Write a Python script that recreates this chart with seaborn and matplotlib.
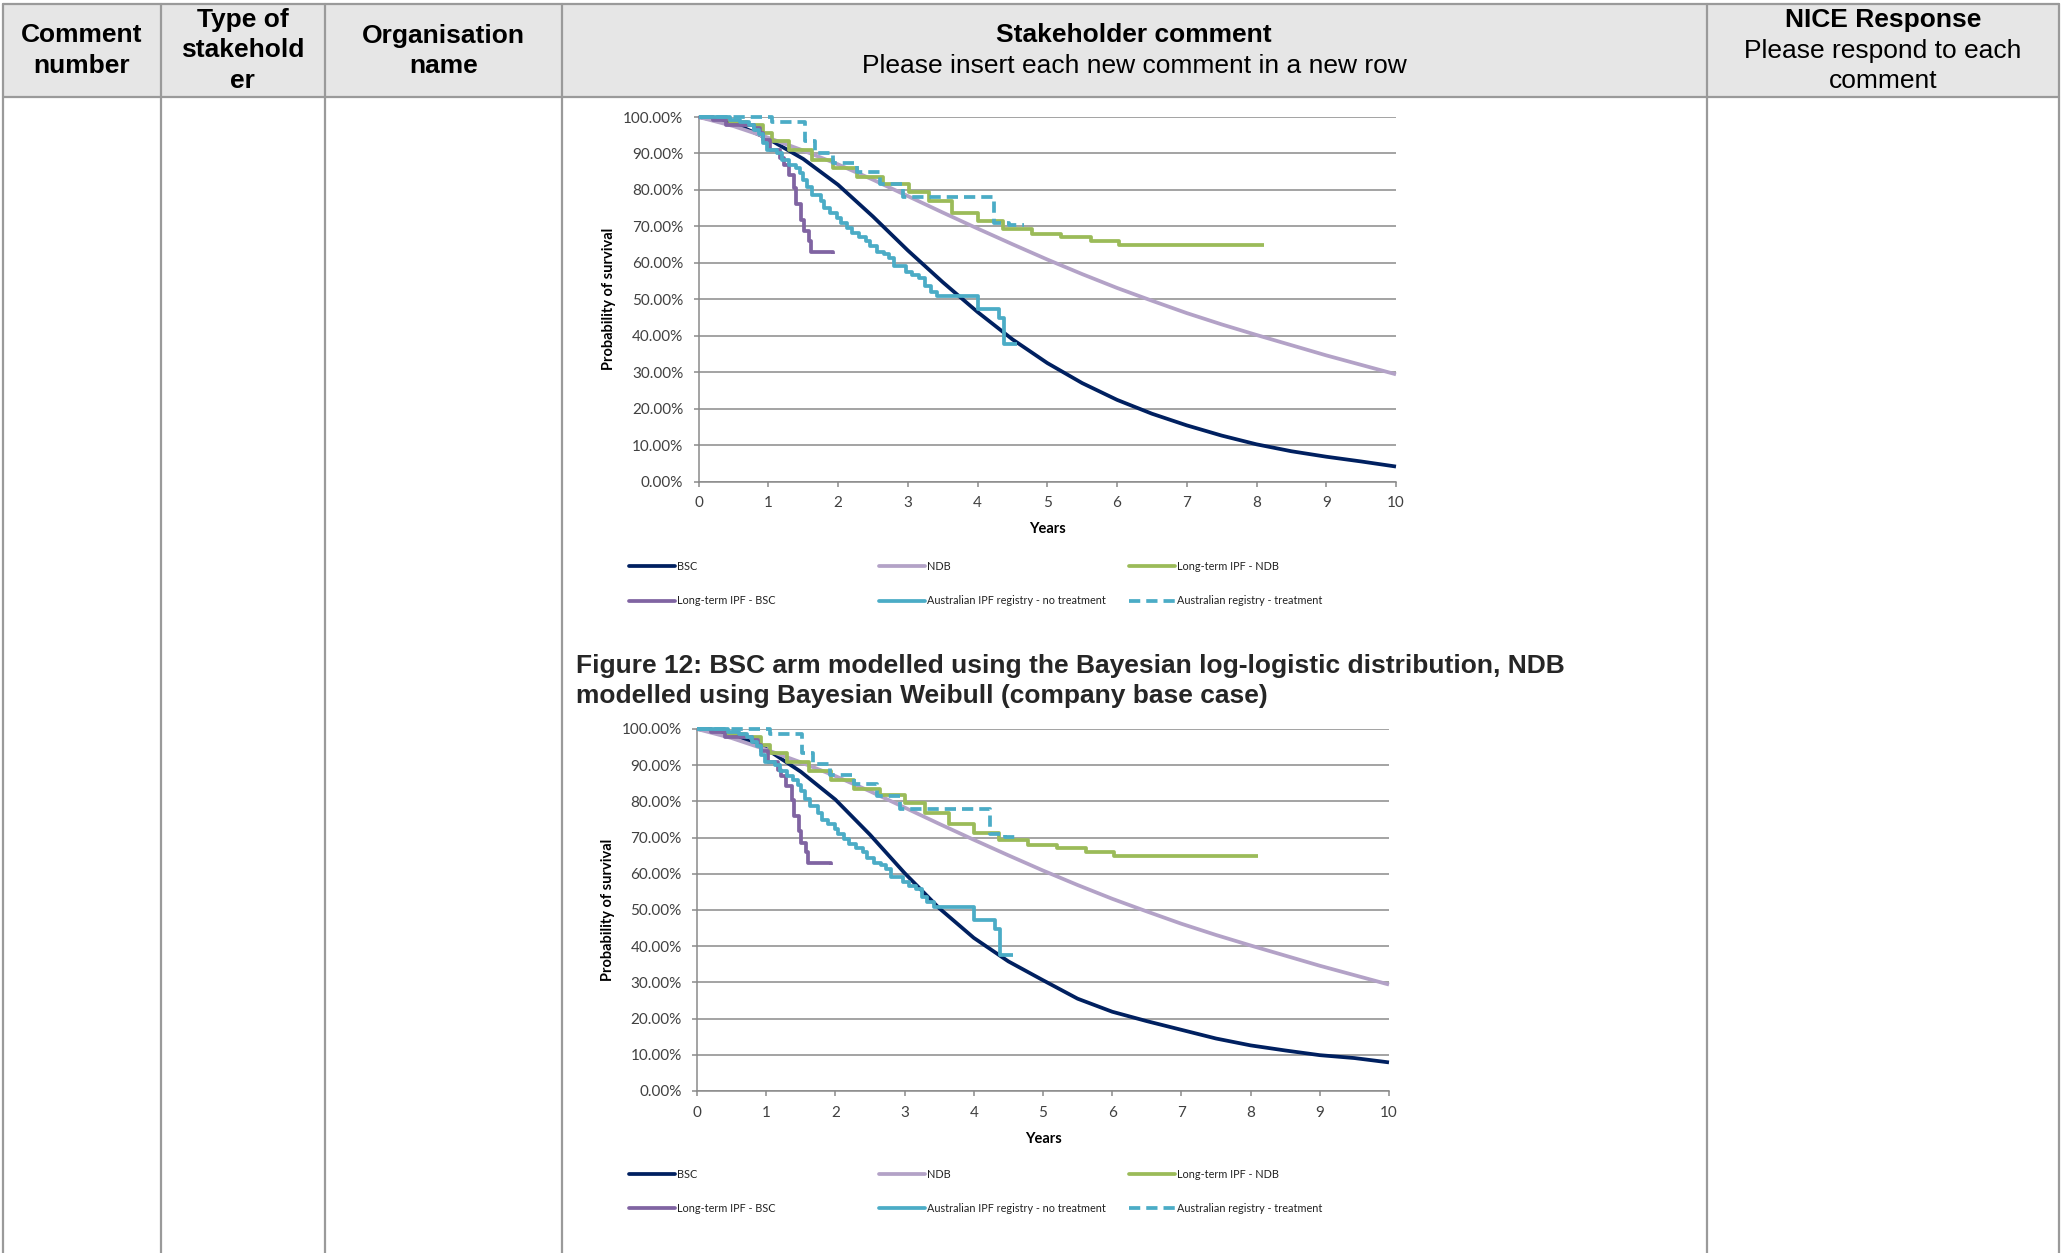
import matplotlib
matplotlib.use("Agg")
import matplotlib.pyplot as plt
import seaborn as sns
import pandas as pd
from matplotlib.ticker import PercentFormatter, MultipleLocator

W, H = 2063, 1253

# ---- data: years and survival (%) ----
years = [0, 0.5, 1, 1.5, 2, 2.5, 3, 3.5, 4, 4.5, 5, 5.5, 6, 6.5, 7, 7.5, 8, 8.5, 9, 9.5, 10]
bsc_fig11 = [100, 98.3, 94.0, 88.5, 81.4, 72.7, 63.4, 54.7, 46.5, 39.0, 32.5, 27.0, 22.4,
             18.6, 15.4, 12.6, 10.2, 8.3, 6.8, 5.5, 4.1]
bsc_fig12 = [100, 98.8, 94.5, 88.2, 80.5, 70.8, 60.2, 50.5, 42.3, 35.8, 30.6, 25.5, 21.9,
             19.3, 16.9, 14.5, 12.6, 11.2, 9.9, 9.1, 7.9]
ndb = [100, 97.5, 94.3, 90.8, 87.0, 82.8, 78.3, 73.8, 69.4, 65.1, 60.9, 56.9, 53.1,
       49.6, 46.2, 43.1, 40.2, 37.4, 34.6, 32.0, 29.4]

ltipf_ndb_t = [0, 0.2, 0.45, 0.7, 0.93, 1.05, 1.3, 1.62, 1.93, 2.27, 2.64, 3.01, 3.3,
               3.64, 4.0, 4.36, 4.78, 5.2, 5.62, 6.03, 8.11]
ltipf_ndb_s = [100, 99.4, 98.6, 97.8, 95.6, 93.5, 91.0, 88.3, 86.0, 83.5, 81.7, 79.5, 76.9,
               73.7, 71.4, 69.4, 67.9, 67.0, 65.9, 65.0, 65.0]

ltipf_bsc_t = [0, 0.2, 0.4, 0.79, 0.88, 0.93, 1.03, 1.17, 1.22, 1.29, 1.37, 1.4, 1.47,
               1.51, 1.58, 1.61, 1.93]
ltipf_bsc_s = [100, 99.3, 97.9, 97.0, 95.5, 93.8, 91.0, 88.7, 86.9, 84.2, 80.5, 76.0, 71.8,
               68.6, 65.9, 62.9, 62.4]

aus_notx_t = [0, 0.45, 0.6, 0.72, 0.79, 0.86, 0.93, 0.98, 1.12, 1.2, 1.3, 1.39, 1.46, 1.5,
              1.56, 1.63, 1.75, 1.8, 1.89, 1.99, 2.04, 2.13, 2.2, 2.3, 2.4, 2.46, 2.56, 2.66,
              2.73, 2.8, 2.97, 3.06, 3.16, 3.25, 3.33, 3.42, 4.0, 4.31, 4.38, 4.57]
aus_notx_s = [100, 99.3, 98.6, 97.9, 96.5, 95.2, 92.9, 91.0, 90.1, 88.3, 86.9, 86.0, 84.6,
              82.8, 80.8, 78.7, 76.9, 75.0, 73.7, 72.3, 70.9, 69.5, 68.2, 67.2, 65.9, 64.5,
              63.1, 62.5, 61.3, 59.0, 57.6, 56.7, 55.8, 53.5, 52.1, 50.8, 47.3, 44.8, 37.7, 37.7]

aus_tx_t = [0, 1.05, 1.52, 1.67, 1.92, 2.27, 2.6, 2.93, 4.23, 4.45, 4.66]
aus_tx_s = [100, 98.7, 93.4, 90.2, 87.4, 84.8, 81.5, 78.0, 71.0, 70.3, 70.3]

legend_labels = ["BSC", "NDB", "Long-term IPF - NDB",
                 "Long-term IPF - BSC", "Australian IPF registry - no treatment",
                 "Australian registry - treatment"]
colors = {"BSC": "#002060", "NDB": "#B3A2C7", "Long-term IPF - NDB": "#9BBB59",
          "Long-term IPF - BSC": "#8064A2",
          "Australian IPF registry - no treatment": "#4BACC6",
          "Australian registry - treatment": "#4BACC6"}

sns.set_style("white")
plt.rcParams["font.family"] = ["Liberation Sans", "DejaVu Sans"]

fig = plt.figure(figsize=(W / 100, H / 100), dpi=100)

# ---- the document table behind the charts ----
tab = fig.add_axes([0, 0, 1, 1])
tab.set_xlim(0, W)
tab.set_ylim(H, 0)
tab.axis("off")
col_x = [3, 160.5, 325, 562, 1706.5, 2059]
line_c = "#9a9a9a"
tab.fill_between([col_x[0], col_x[-1]], 4, 97, color="#E6E6E6", lw=0)
tab.plot([col_x[0], col_x[-1]], [4, 4], color=line_c, lw=1.6)
tab.plot([col_x[0], col_x[-1]], [97, 97], color=line_c, lw=1.6)
for x in col_x:
    tab.plot([x, x], [4, H], color=line_c, lw=1.6)

hdr = 19
def cell(x, y, s, bold=True):
    tab.text(x, y, s, ha="center", va="center", fontsize=hdr,
             fontweight="bold" if bold else "normal", color="black")

c = [(col_x[i] + col_x[i + 1]) / 2 for i in range(5)]
cell(c[0], 35.5, "Comment")
cell(c[0], 66, "number")
cell(c[1], 20, "Type of")
cell(c[1], 50, "stakehold")
cell(c[1], 81, "er")
cell(c[2], 35.5, "Organisation")
cell(c[2], 66, "name")
cell(c[3], 35.5, "Stakeholder comment")
cell(c[3], 66, "Please insert each new comment in a new row", bold=False)
cell(c[4], 20, "NICE Response")
cell(c[4], 51, "Please respond to each", bold=False)
cell(c[4], 81, "comment", bold=False)

tab.text(576, 666, "Figure 12: BSC arm modelled using the Bayesian log-logistic distribution, NDB",
         ha="left", va="center", fontsize=hdr, fontweight="bold")
tab.text(576, 696, "modelled using Bayesian Weibull (company base case)",
         ha="left", va="center", fontsize=hdr, fontweight="bold")

CF = ["Lato", "DejaVu Sans"]
grid_c = "#8a8a8a"
lw = 2.7

def draw_chart(x0, x1, ytop, ybot, bsc_vals, leg_y):
    ax = fig.add_axes([x0 / W, 1 - ybot / H, (x1 - x0) / W, (ybot - ytop) / H])
    ax.set_facecolor("none")
    series = [
        ("BSC", years, bsc_vals, "-", None),
        ("NDB", years, ndb, "-", None),
        ("Long-term IPF - NDB", ltipf_ndb_t, ltipf_ndb_s, "-", "steps-post"),
        ("Long-term IPF - BSC", ltipf_bsc_t, ltipf_bsc_s, "-", "steps-post"),
        ("Australian IPF registry - no treatment", aus_notx_t, aus_notx_s, "-", "steps-post"),
        ("Australian registry - treatment", aus_tx_t, aus_tx_s, (0, (3, 1.6)), "steps-post"),
    ]
    draw_order = [1, 2, 4, 5, 3, 0]
    for i in draw_order:
        name, t, s, ls, ds = series[i]
        df = pd.DataFrame({"Years": t, "Survival": s})
        kw = dict(drawstyle=ds) if ds else {}
        sns.lineplot(data=df, x="Years", y="Survival", ax=ax, color=colors[name], lw=lw,
                     linestyle=ls, estimator=None, sort=False, clip_on=False,
                     solid_capstyle="butt", zorder=3 + i, **kw)
    ax.set_xlim(0, 10)
    ax.set_ylim(0, 100)
    ax.xaxis.set_major_locator(MultipleLocator(1))
    ax.yaxis.set_major_locator(MultipleLocator(10))
    ax.yaxis.set_major_formatter(PercentFormatter(xmax=100, decimals=2))
    ax.grid(axis="y", color=grid_c, lw=1.1)
    ax.grid(axis="x", visible=False)
    for sp in ["top", "right"]:
        ax.spines[sp].set_visible(False)
    for sp in ["left", "bottom"]:
        ax.spines[sp].set_color(grid_c)
        ax.spines[sp].set_linewidth(1.1)
    ax.tick_params(axis="y", length=3.6, width=1.1, color=grid_c, pad=7.5,
                   labelsize=11, labelcolor="#404040", left=True)
    ax.tick_params(axis="x", length=3.6, width=1.1, color=grid_c, pad=7,
                   labelsize=11, labelcolor="#404040", bottom=True)
    for lab in ax.get_xticklabels() + ax.get_yticklabels():
        lab.set_family(CF)
    ax.set_xlabel("Years", fontsize=10.5, fontweight="bold", family=CF, color="black")
    ax.set_ylabel("Probability of survival", fontsize=10.5, fontweight="bold", family=CF,
                  color="black")
    ax.xaxis.set_label_coords(0.5, -0.112)
    ax.yaxis.set_label_coords(-0.118, 0.5)

    # legend laid out in three equal columns, like the office chart
    leg_x = [629, 879, 1129]
    for k, name in enumerate(legend_labels):
        lx = leg_x[k % 3]
        ly = leg_y[k // 3]
        ls = (0, (3, 1.6)) if "treatment" in name and "no" not in name else "-"
        tab.plot([lx, lx + 46], [ly, ly], color=colors[name], lw=lw, linestyle=ls,
                 solid_capstyle="round")
        tab.text(lx + 48, ly, name, ha="left", va="center", fontsize=7.8, family=CF,
                 color="#222222")
    return ax

draw_chart(698.6, 1396, 117, 481.5, bsc_fig11, [566, 601])
draw_chart(697, 1389, 729, 1091, bsc_fig12, [1174, 1208])

fig.savefig("out.png", dpi=100)
